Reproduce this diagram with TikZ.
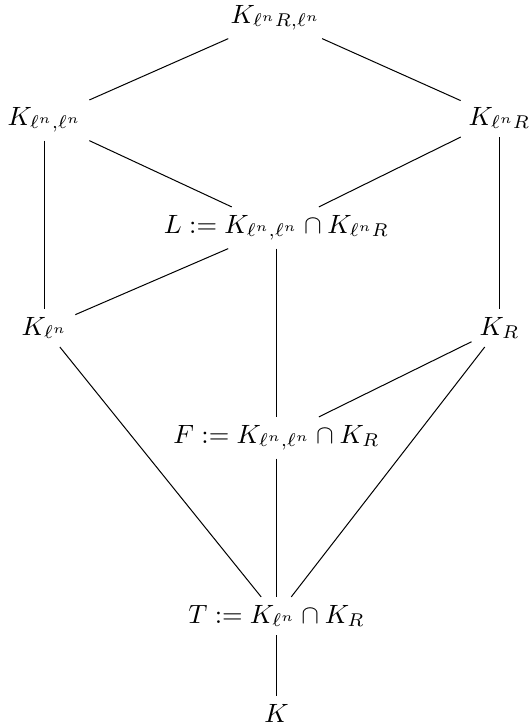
\documentclass[tikz,border=0pt]{standalone}
\begin{document}
\begin{tikzpicture}[x=0.3784pt,y=-0.3784pt,
  lbl/.style={inner sep=2.85pt,anchor=base},
  ln/.style={draw,line width=0.38pt}]
\useasboundingbox (0,0) rectangle (531,728);
\node[lbl] (top) at (275.5,23) {$K_{\ell^n R,\ell^n}$};
\node[lbl] (kll) at (44.5,125) {$K_{\ell^n,\ell^n}$};
\node[lbl] (klr) at (499.5,125) {$K_{\ell^n R}$};
\node[lbl] (L) at (276.5,233) {$L:=K_{\ell^n,\ell^n}\cap K_{\ell^n R}$};
\node[lbl] (kl) at (44.5,335) {$K_{\ell^n}$};
\node[lbl] (kr) at (499.5,335) {$K_R$};
\node[lbl] (F) at (276.5,443) {$F:=K_{\ell^n,\ell^n}\cap K_R$};
\node[lbl] (T) at (276.5,623) {$T:=K_{\ell^n}\cap K_R$};
\node[lbl] (K) at (276.5,722) {$K$};
\draw[ln] (top) -- (kll);
\draw[ln] (top) -- (klr);
\draw[ln] (kll) -- (L);
\draw[ln] (klr) -- (L);
\draw[ln] (kll) -- (kl);
\draw[ln] (klr) -- (kr);
\draw[ln] (L) -- (kl);
\draw[ln] (L) -- (F);
\draw[ln] (kr) -- (F);
\draw[ln] (kl) -- (T);
\draw[ln] (F) -- (T);
\draw[ln] (kr) -- (T);
\draw[ln] (T) -- (K);
\end{tikzpicture}
\end{document}
